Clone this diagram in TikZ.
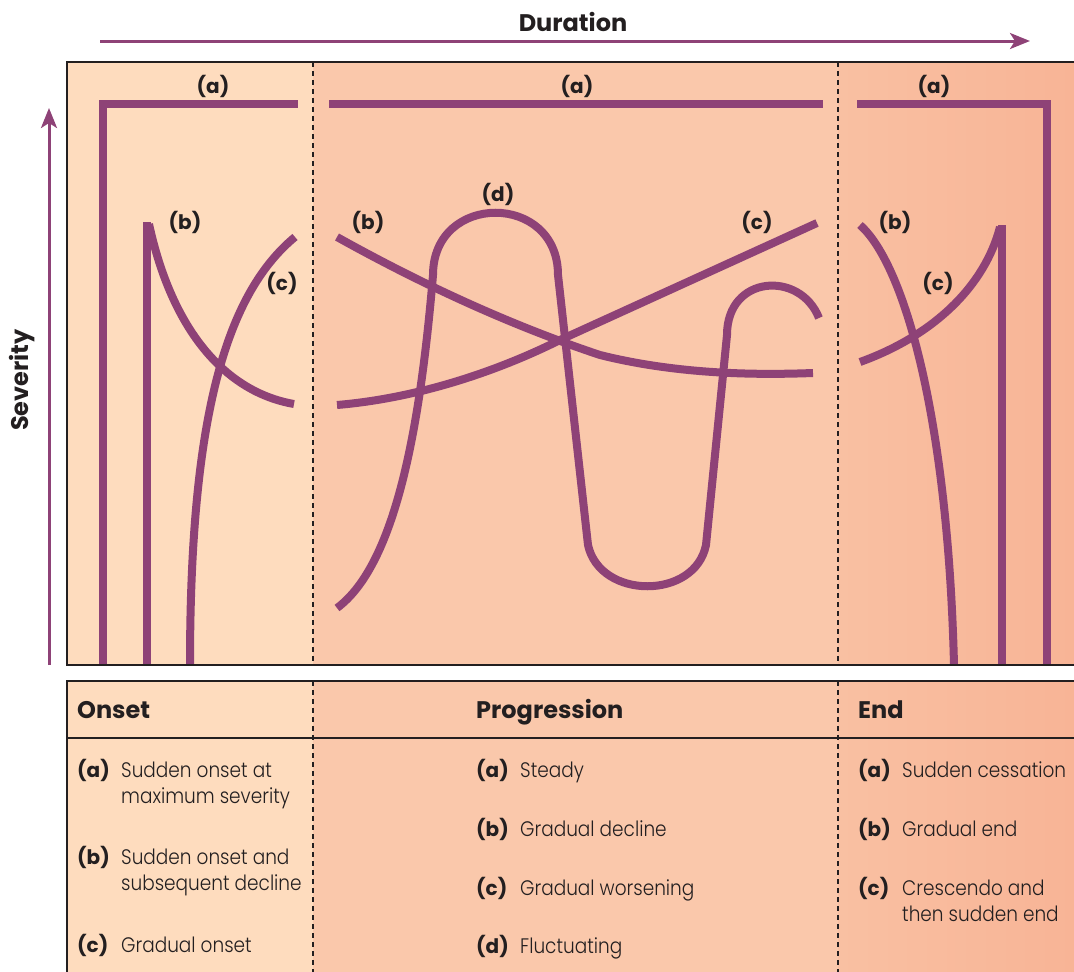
\documentclass[tikz,border=0pt]{standalone}
\usepackage{fontspec}
\setmainfont{Poppins}
\newfontfamily\lightfont{Poppins Light}[FakeStretch=0.88]
\definecolor{plum}{RGB}{142,66,119}
\definecolor{peachA}{RGB}{254,220,190}
\definecolor{peachB}{RGB}{250,200,171}
\definecolor{peachC}{RGB}{249,192,162}
\definecolor{peachD}{RGB}{248,180,150}
\definecolor{ink}{RGB}{35,31,32}
\usetikzlibrary{arrows.meta}

\begin{document}
\begin{tikzpicture}[x=1pt, y=-1pt]
    \tikzstyle{crv} = [draw=plum, line width=8pt, line join=miter]
    \tikzstyle{ax} = [draw=plum, line width=3pt, -{Stealth[length=20pt, width=16pt, inset=5pt]}]
    \tikzstyle{lbl} = [font=\bfseries\fontsize{20}{24}\selectfont, text=ink, inner sep=0pt]
    \tikzstyle{big} = [font=\bfseries\fontsize{24}{28}\selectfont, text=ink, inner sep=0pt]
    \tikzstyle{hd} = [big, anchor=base west]
    \tikzstyle{key} = [lbl, anchor=base west]
    \tikzstyle{itm} = [font=\lightfont\fontsize{21}{26}\selectfont, text=ink, inner sep=0pt, anchor=base west]
    \tikzstyle{sep} = [draw=ink, line width=2pt, dash pattern=on 5pt off 4pt]
    \tikzstyle{frm} = [draw=ink, line width=2.5pt]

    \useasboundingbox (0,0) rectangle (1074,972);

    % backgrounds
    \fill[peachA] (67,62) rectangle (313,665);
    \fill[peachB] (313,62) rectangle (838,665);
    \shade[left color=peachC, right color=peachD] (838,62) rectangle (1074,665);
    \fill[peachA] (67,681) rectangle (313,972);
    \fill[peachB] (313,681) rectangle (838,972);
    \shade[left color=peachC, right color=peachD] (838,681) rectangle (1074,972);

    % axes
    \coordinate (d0) at (100,41);
    \coordinate (d1) at (1030,41);
    \coordinate (s0) at (49,665);
    \coordinate (s1) at (49,108);
    \draw[ax] (d0) -- (d1);
    \draw[ax] (s0) -- (s1);
    \node[big] (dur) at (573,22) {Duration};
    \node[big, rotate=90] (sev) at (22,380) {Severity};

    % onset
    \draw[crv] (103,665) -- (103,104) -- (298,104);
    \draw[crv] (147,665) -- (147,222);
    \draw[crv] (149,224) .. controls (172,330) and (225,392) .. (294,404);
    \draw[crv] (190,665) .. controls (190,420) and (225,295) .. (295,237);
    \node[lbl] (oa) at (213,86) {(a)};
    \node[lbl] (ob) at (185,222) {(b)};
    \node[lbl] (oc) at (282,283) {(c)};

    % progression
    \draw[crv] (329,104) -- (823,104);
    \draw[crv] (337,237) .. controls (450,300) and (540,335) .. (600,355)
        .. controls (680,375) and (760,375) .. (813,373);
    \draw[crv] (337,405) .. controls (420,398) and (500,370) .. (560,340) -- (817,223);
    \draw[crv] (337,608) .. controls (395,565) and (420,430) .. (433,275)
        .. controls (433,192) and (558,192) .. (558,275) -- (588,545)
        .. controls (600,600) and (695,600) .. (706,545) -- (727,335)
        .. controls (727,275) and (800,270) .. (819,318);
    \node[lbl] (pa) at (577,86) {(a)};
    \node[lbl] (pb) at (368,222) {(b)};
    \node[lbl] (pc) at (757,222) {(c)};
    \node[lbl] (pd) at (498,194) {(d)};

    % end
    \draw[crv] (857,104) -- (1047,104) -- (1047,665);
    \draw[crv] (860,225) .. controls (905,265) and (948,420) .. (954,665);
    \draw[crv] (860,362) .. controls (935,335) and (985,285) .. (1000,227);
    \draw[crv] (1002,225) -- (1002,665);
    \node[lbl] (ea) at (934,86) {(a)};
    \node[lbl] (eb) at (895,222) {(b)};
    \node[lbl] (ec) at (938,283) {(c)};

    % frames
    \draw[sep] (313,62) -- (313,665);
    \draw[sep] (838,62) -- (838,665);
    \draw[sep] (313,681) -- (313,972);
    \draw[sep] (838,681) -- (838,972);
    \draw[frm] (1074,62) -- (67,62) -- (67,665) -- (1074,665);
    \draw[frm] (1074,681) -- (67,681) -- (67,972);
    \draw[frm] (67,738) -- (1074,738);

    % table
    \node[hd] (hon) at (77,718) {Onset};
    \node[hd] (hpr) at (476,718) {Progression};
    \node[hd] (hen) at (858,718) {End};

    \node[key] (ta1) at (77,777) {(a)};
    \node[itm] at (121,777) {Sudden onset at};
    \node[itm] at (121,803) {maximum severity};
    \node[key] (tb1) at (77,864) {(b)};
    \node[itm] at (121,864) {Sudden onset and};
    \node[itm] at (121,890) {subsequent decline};
    \node[key] (tc1) at (77,952) {(c)};
    \node[itm] at (121,952) {Gradual onset};

    \node[key] (ta2) at (476,777) {(a)};
    \node[itm] at (520,777) {Steady};
    \node[key] (tb2) at (476,836) {(b)};
    \node[itm] at (520,836) {Gradual decline};
    \node[key] (tc2) at (476,895) {(c)};
    \node[itm] at (520,895) {Gradual worsening};
    \node[key] (td2) at (476,953) {(d)};
    \node[itm] at (520,953) {Fluctuating};

    \node[key] (ta3) at (858,777) {(a)};
    \node[itm] at (902,777) {Sudden cessation};
    \node[key] (tb3) at (858,836) {(b)};
    \node[itm] at (902,836) {Gradual end};
    \node[key] (tc3) at (858,895) {(c)};
    \node[itm] at (902,895) {Crescendo and};
    \node[itm] at (902,921) {then sudden end};
\end{tikzpicture}
\end{document}
